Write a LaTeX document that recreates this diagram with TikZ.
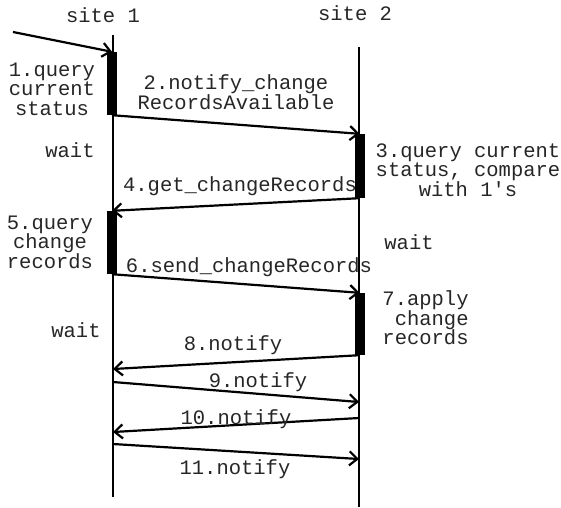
\documentclass[tikz,border=0pt]{standalone}
\usepackage{fontspec}
\setmonofont{Liberation Mono}
\usetikzlibrary{arrows.meta}

\begin{document}
\begin{tikzpicture}[
    x=1pt, y=-1pt, % picture is laid out in pixels, y going down
    >={Straight Barb[length=8pt, width=14pt]},
    lifeline/.style={line width=1.8pt},
    msg/.style={->, line width=2.2pt},
    actbar/.style={rectangle, fill=black, draw=none, inner sep=0pt,
        minimum width=10pt},
    lbl/.style={font=\ttfamily\fontsize{20.5}{19.5}\selectfont,
        align=center, inner sep=0pt, text=black!85}
]
    \useasboundingbox (0,0) rectangle (561,507);

    % --- Sites and lifelines ---
    \node[lbl] (Site1) at (103,15) {site 1};
    \node[lbl] (Site2) at (355,13) {site 2};

    \coordinate (S1Top) at (113,35);
    \coordinate (S1Bot) at (113,497);
    \coordinate (S2Top) at (359,47);
    \coordinate (S2Bot) at (359,507);
    \draw[lifeline] (S1Top) -- (S1Bot);
    \draw[lifeline] (S2Top) -- (S2Bot);

    % --- Activation bars ---
    \node[actbar, minimum height=63pt] (Act1) at (112,83.5) {};
    \node[actbar, minimum height=64pt] (Act3) at (359.5,166) {};
    \node[actbar, minimum height=63pt] (Act5) at (112,242.5) {};
    \node[actbar, minimum height=62pt] (Act7) at (359.5,324) {};

    % --- Message end points ---
    \coordinate (Start) at (13,32);
    \coordinate (M8End) at (113,369);
    \coordinate (M9Start) at (113,382);
    \coordinate (M9End) at (359,402);
    \coordinate (M10Start) at (359,418);
    \coordinate (M10End) at (113,432);
    \coordinate (M11Start) at (113,444);
    \coordinate (M11End) at (359,459);

    % --- Messages ---
    \draw[msg] (Start) -- (Act1.north);
    \draw[msg] (Act1.south) -- (Act3.north);
    \draw[msg] (Act3.south) -- (Act5.north);
    \draw[msg] (Act5.south) -- (Act7.north);
    \draw[msg] (Act7.south) -- (M8End);
    \draw[msg] (M9Start) -- (M9End);
    \draw[msg] (M10Start) -- (M10End);
    \draw[msg] (M11Start) -- (M11End);

    % --- Labels ---
    \node[lbl] (Query1) at (52,89) {1.query\\current\\status};
    \node[lbl] (Notify2) at (236,92) {2.notify\_change\\RecordsAvailable};
    \node[lbl] (Wait1) at (70,150) {wait};
    \node[lbl] (Query3) at (468,170) {3.query current\\status, compare\\with 1\textquotesingle s};
    \node[lbl] (Get4) at (240,186) {4.get\_changeRecords};
    \node[lbl] (Query5) at (50,242) {5.query\\change\\records};
    \node[lbl] (Send6) at (249,267) {6.send\_changeRecords};
    \node[lbl] (Wait2) at (409,242) {wait};
    \node[lbl, align=right] (Apply7) at (425.5,318) {7.apply\\change\\records};
    \node[lbl] (Wait3) at (76,330) {wait};
    \node[lbl] (Notify8) at (233,345) {8.notify};
    \node[lbl] (Notify9) at (258,382) {9.notify};
    \node[lbl] (Notify10) at (236,419) {10.notify};
    \node[lbl] (Notify11) at (235,469) {11.notify};

\end{tikzpicture}
\end{document}
